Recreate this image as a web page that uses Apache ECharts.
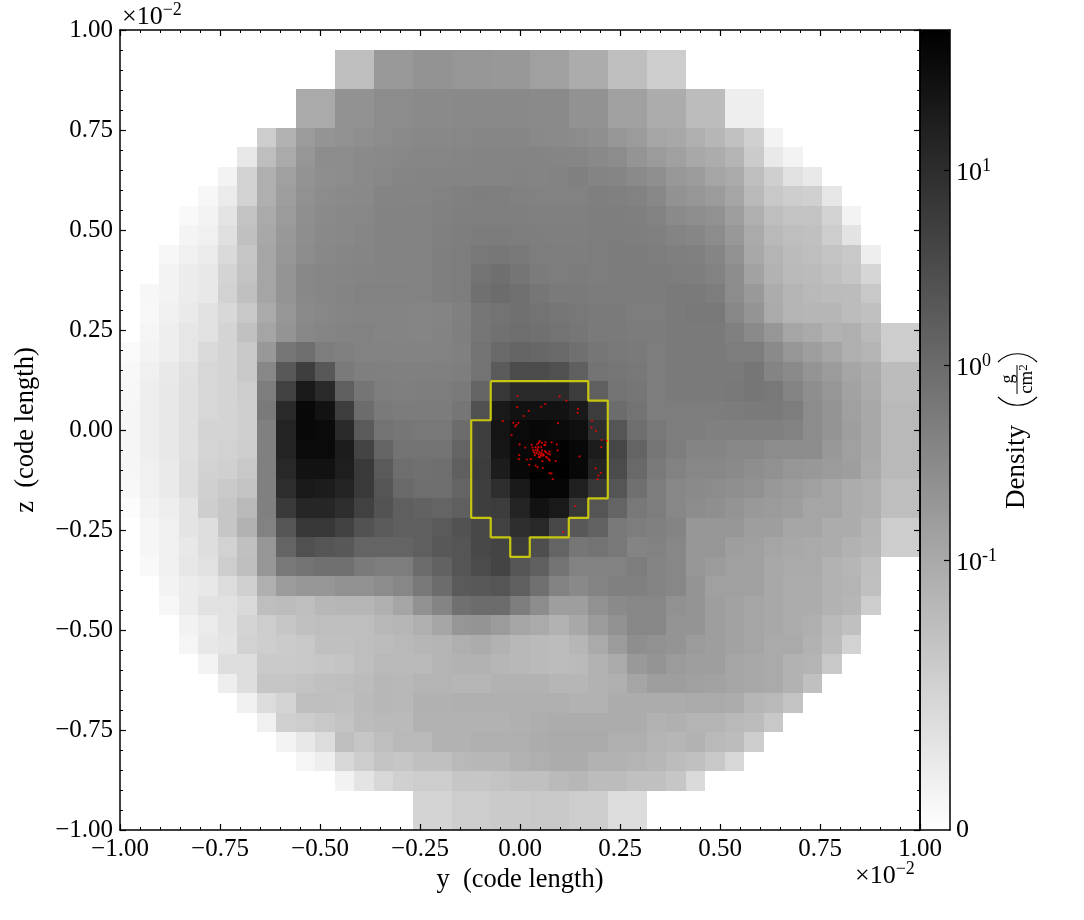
<!DOCTYPE html>
<html><head><meta charset="utf-8">
<style>html,body{margin:0;padding:0;background:#fff}#c{width:1084px;height:920px}</style>
<script src="https://cdn.jsdelivr.net/npm/echarts@6/dist/echarts.min.js"></script>
</head><body><div id="c"></div>
<script>
// Density, on the colourbar's log scale: 0 = bottom of the bar, 255 = top.
const LEVEL_BOTTOM_LOG = -2.385, LEVEL_TOP_LOG = 1.718;
const rowFirstColumn = [0,11,11,9,9,7,6,5,4,3,3,2,2,1,1,1,0,0,0,0,0,0,0,0,0,1,1,1,2,2,3,3,4,5,6,7,8,9,11,15,15];
const densityLevelRows = [
[],
[65,65,102,102,108,108,105,105,103,103,95,95,83,83,65,65,50,50],
[65,65,102,102,108,108,105,105,103,103,95,95,83,83,65,65,50,50],
[85,85,109,109,115,115,117,117,118,118,118,118,117,117,109,109,95,95,83,83,67,67,17,17],
[85,85,109,109,115,115,117,117,118,118,118,118,117,117,109,109,95,95,83,83,67,67,17,17],
[50,77,100,107,110,112,115,117,119,119,120,121,121,121,118,117,115,112,105,100,90,87,80,73,62,47,12],
[23,65,85,105,115,115,117,118,120,121,121,122,123,123,123,123,122,121,118,115,107,100,95,87,83,75,52,22,12],
[12,45,80,95,108,113,115,117,120,122,123,123,123,123,123,124,123,125,127,123,122,117,112,103,100,90,85,65,48,30,22],
[8,20,45,80,97,110,115,117,118,123,123,123,125,127,129,128,126,125,125,125,128,127,125,119,109,105,100,90,70,55,50,47,25],
[6,12,27,60,85,100,112,117,119,120,124,124,125,126,128,128,128,128,127,127,127,129,129,128,124,117,113,110,97,80,65,60,60,45,12],
[11,15,31,63,87,103,113,118,119,121,124,124,125,127,129,131,131,130,129,128,128,129,130,129,127,123,121,115,103,85,70,65,63,50,28],
[8,15,20,37,57,90,105,115,119,121,122,124,124,125,128,130,135,136,134,130,130,129,130,131,131,130,128,127,122,110,87,75,68,65,60,55,17],
[12,19,23,43,60,90,107,119,121,122,123,124,124,125,128,130,140,144,138,132,130,131,130,131,131,131,130,129,125,115,93,77,70,68,63,57,41],
[8,12,19,23,45,63,90,107,119,121,123,125,125,125,125,128,130,143,147,143,137,133,133,131,131,131,131,133,133,130,115,102,83,75,70,68,67,55],
[7,15,21,30,39,55,85,105,117,120,122,123,123,123,122,123,127,137,140,143,140,137,135,133,133,130,130,133,135,135,120,107,85,75,73,73,67,63],
[10,17,25,30,43,62,90,107,120,122,124,125,123,123,122,124,128,137,142,145,143,140,137,133,133,131,131,133,133,133,127,117,105,90,85,77,80,70,50,50],
[5,12,17,25,37,43,55,103,137,145,130,127,125,125,124,124,125,127,140,150,155,152,150,143,137,135,133,130,133,133,133,130,130,117,105,97,90,80,75,50,50],
[7,15,22,30,40,43,55,120,167,193,167,133,128,127,127,127,127,129,140,165,180,180,175,160,140,137,135,130,133,133,133,133,137,123,117,107,100,90,83,67,67],
[8,17,23,31,40,43,50,130,190,230,213,160,138,130,128,129,130,133,155,200,213,213,213,195,160,140,137,130,133,133,133,135,137,135,123,113,105,93,85,67,67],
[9,17,23,31,40,43,48,133,213,247,237,193,147,133,131,131,131,137,175,230,237,237,237,230,195,147,140,130,130,130,130,131,133,133,130,115,107,95,87,70,70],
[9,17,23,31,43,43,48,127,220,247,245,213,165,140,137,135,135,147,193,235,245,247,245,240,210,170,145,135,130,130,127,127,127,127,125,115,107,97,87,70,70],
[9,17,23,31,42,45,50,127,220,245,245,227,187,155,140,140,140,155,193,233,247,253,253,247,227,185,155,137,130,123,123,120,119,115,115,115,103,95,87,70,70],
[9,15,21,33,45,47,55,127,215,237,237,225,197,165,145,143,145,160,195,227,247,254,254,247,220,180,150,133,125,120,120,117,113,110,105,103,100,97,85,70,70],
[7,15,21,33,47,53,60,127,210,230,227,220,197,170,150,145,145,155,193,210,230,250,250,223,200,170,143,130,120,117,115,112,110,103,100,95,90,83,80,65,65],
[3,12,17,27,49,57,70,127,197,217,217,210,190,172,160,157,155,160,193,195,220,237,230,200,170,155,135,130,120,115,112,107,102,100,97,90,90,83,80,65,65],
[9,15,27,33,57,77,125,170,200,200,190,173,165,160,160,165,173,183,190,210,215,183,167,157,135,130,127,123,105,105,105,97,97,90,90,83,83,75,50,50],
[9,15,23,33,45,63,105,155,175,170,167,155,155,155,160,167,170,183,187,195,177,155,137,140,135,123,125,120,105,105,97,95,90,87,85,83,77,73,50,50],
[6,15,25,30,50,65,105,135,140,143,143,133,130,130,147,157,170,180,187,170,160,140,125,125,125,130,123,120,105,100,95,95,87,85,85,77,73,65],
[12,19,23,35,47,80,100,105,105,110,110,115,120,135,147,165,167,170,160,143,125,118,123,127,127,123,120,107,95,95,95,87,83,83,77,75,63],
[8,19,29,30,37,65,67,65,72,73,73,79,90,110,123,143,147,147,130,115,97,97,110,117,120,120,110,107,97,93,90,87,83,83,77,73,50],
[13,20,29,43,50,57,63,65,65,65,71,73,80,90,105,107,100,90,85,77,87,100,110,120,120,107,107,97,93,90,87,83,80,70,63],
[10,23,27,45,49,52,55,63,63,65,67,70,73,75,80,83,77,71,69,67,73,85,100,113,110,107,100,97,93,90,85,85,77,67,45],
[12,33,33,53,53,55,57,60,65,70,69,70,75,77,77,73,71,69,67,69,77,85,102,107,100,97,97,90,87,85,77,75,55],
[17,33,57,57,60,63,65,67,72,71,75,75,73,73,77,77,77,73,73,77,80,90,97,97,95,93,90,87,85,77,63],
[15,35,43,65,65,63,69,72,71,78,78,79,79,79,79,80,80,77,77,83,83,83,83,85,85,83,73,70,60],
[15,47,50,55,60,67,69,69,77,77,77,77,77,79,81,83,83,83,83,83,77,79,75,75,70,67,55],
[12,23,35,65,57,65,70,70,77,77,80,80,80,83,85,85,85,80,80,75,73,77,70,67,50],
[10,17,40,50,60,57,63,63,70,72,72,77,80,83,83,77,77,75,72,67,63,55,40],
[13,27,40,47,50,50,57,57,60,63,63,69,72,67,67,63,63,57,37],
[43,43,50,50,53,53,55,55,50,50,35,35],
[43,43,50,50,53,53,55,55,50,50,35,35]
];
const contourY = [-0.0732,0.1707,0.1707,0.2195,0.2195,0.1707,0.1707,0.122,0.122,0.0244,0.0244,-0.0244,-0.0244,-0.0732,-0.0732,-0.122,-0.122,-0.0732,-0.0732];
const contourZ = [0.122,0.122,0.0732,0.0732,-0.1707,-0.1707,-0.2195,-0.2195,-0.2683,-0.2683,-0.3171,-0.3171,-0.2683,-0.2683,-0.2195,-0.2195,0.0244,0.0244,0.122];
const particleY = [-.006,.099,.116,-.007,.022,.053,.063,.145,.144,.009,-.043,-.017,-.004,-.009,-.012,.095,.18,.179,.19,-.021,.204,.217,.203,-.001,.013,.149,.189,.202,.196,.194,.082,.074,.079,.057,.039,.044,.023,-.002,-.003,.017,.027,.089,.074,.056,.138,.108,.092,.079,.064,.049,.047,.055,.043,.029,.031,.039,.046,.053,.063,.061,.094,.033,.039,.044,.049,.054,.058,.047,.052,.041,.037,.056,.062,.065,.07,.074,.075,.068,.072,.065,.047,.05,.059,.055,.044,.035];
const particleZ = [.085,.084,.073,.057,.048,.058,.065,.053,.043,.035,.022,.018,.018,.013,.009,.017,.023,.006,-.002,-.013,-.025,-.027,-.043,-.036,-.044,-.066,-.096,-.107,-.114,-.123,-.123,-.108,-.109,-.095,-.089,-.093,-.087,-.063,-.073,-.074,-.073,-.078,-.076,-.078,-.19,-.255,-.036,-.031,-.031,-.028,-.032,-.032,-.036,-.037,-.044,-.043,-.043,-.043,-.037,-.038,-.051,-.051,-.05,-.053,-.056,-.058,-.061,-.061,-.063,-.058,-.063,-.065,-.053,-.056,-.059,-.054,-.061,-.069,-.073,-.067,-.068,-.068,-.063,-.051,-.048,-.056];
const colorbarTicks = [-1,0,1];
const colorbarLabels = {'-1':'{b|10}{s|-1}','0':'{b|10}{s|0}','1':'{b|10}{s|1}'};
const FONT = '"Liberation Serif"';
const N = 41, CELL = 2 / N;

const cells = [];
densityLevelRows.forEach((row, r) => row.forEach((level, i) => {
  const c = rowFirstColumn[r] + i;
  const logD = LEVEL_BOTTOM_LOG + level * (LEVEL_TOP_LOG - LEVEL_BOTTOM_LOG) / 255;
  cells.push([-1 + (c + 0.5) * CELL, 1 - (r + 0.5) * CELL, logD]);
}));

const contour = contourY.map((v, i) => [v, contourZ[i]]);
const particles = particleY.map((v, i) => [v, particleZ[i]]);

const tickFmt = v => (v < 0 ? '\u2212' : '') + Math.abs(v).toFixed(2);
const line = {show:true, onZero:false, lineStyle:{color:'#000', width:1.5}};
function mainAxis(pos, labelled, name, gap) {
  return {
    type:'value', min:-1, max:1, interval:0.25, position:pos, gridIndex:0, z:6,
    axisLine:line, splitLine:{show:false},
    axisTick:{show:true, inside:true, length:6, lineStyle:{color:'#000', width:1.2}},
    minorTick:{show:true, splitNumber:5, length:3, lineStyle:{color:'#000', width:1}},
    axisLabel:{show:labelled, color:'#000', fontFamily:FONT, fontSize:25, margin:7, formatter:tickFmt, showMinLabel:true, showMaxLabel:true, hideOverlap:false},
    name:name||'', nameLocation:'middle', nameGap:gap||0,
    nameTextStyle:{color:'#000', fontFamily:FONT, fontSize:26.5}
  };
}
function barX(pos) {
  return {type:'value', gridIndex:1, position:pos, min:0, max:1, z:6, axisLine:line, axisTick:{show:false}, axisLabel:{show:false}, splitLine:{show:false}};
}
const supRich = {b:{fontFamily:FONT,fontSize:26,color:'#000',padding:[6,0,0,0]}, s:{fontFamily:FONT,fontSize:18,color:'#000',padding:[0,0,8,0]}};
const option = {
  animation:false,
  backgroundColor:'#fff',
  grid:[
    {left:120, top:30, width:800, height:800},
    {left:920, top:30, width:30, height:800}
  ],
  xAxis:[ mainAxis('bottom', true, 'y  (code length)', 37), mainAxis('top', false), barX('bottom'), barX('top') ],
  yAxis:[
    mainAxis('left', true, 'z  (code length)', 80), mainAxis('right', false),
    {type:'value', gridIndex:1, position:'right', min:LEVEL_BOTTOM_LOG, max:LEVEL_TOP_LOG, z:6,
     axisLine:line, splitLine:{show:false},
     axisTick:{show:true, inside:true, length:6, customValues:colorbarTicks, lineStyle:{color:'#000', width:1.2}},
     axisLabel:{show:true, color:'#000', fontFamily:FONT, margin:6, showMinLabel:true, hideOverlap:false,
       customValues:[LEVEL_BOTTOM_LOG].concat(colorbarTicks),
       formatter:v => colorbarLabels[String(Math.round(v))] && Math.abs(v-Math.round(v))<1e-6 ? colorbarLabels[String(Math.round(v))] : '{z|0}',
       rich:{b:supRich.b, s:supRich.s, z:{fontFamily:FONT,fontSize:26,color:'#000'}}}},
    {type:'value', gridIndex:1, position:'left', min:LEVEL_BOTTOM_LOG, max:LEVEL_TOP_LOG, z:6, axisLine:line, axisTick:{show:false}, axisLabel:{show:false}, splitLine:{show:false}}
  ],
  visualMap:{
    type:'continuous', seriesIndex:0, dimension:2, min:LEVEL_BOTTOM_LOG, max:LEVEL_TOP_LOG,
    inRange:{color:['#ffffff','#000000']}, calculable:false, realtime:false,
    left:920, top:30, itemWidth:30, itemHeight:800, padding:0, borderWidth:0, hoverLink:false
  },
  series:[
    {type:'custom', xAxisIndex:0, yAxisIndex:0, coordinateSystem:'cartesian2d', encode:{x:0,y:1}, data:cells, z:1, silent:true,
     renderItem:(params, api) => {
       const p = api.coord([api.value(0) - CELL/2, api.value(1) + CELL/2]);
       const q = api.coord([api.value(0) + CELL/2, api.value(1) - CELL/2]);
       return {type:'rect', shape:{x:Math.round(p[0]), y:Math.round(p[1]), width:Math.round(q[0])-Math.round(p[0]), height:Math.round(q[1])-Math.round(p[1])},
               style:{fill:api.visual('color'), stroke:null}};
     }},
    {type:'line', xAxisIndex:0, yAxisIndex:0, data:contour, showSymbol:false, symbol:'none', z:3, silent:true,
     lineStyle:{color:'#c6c610', width:2.2}},
    {type:'scatter', xAxisIndex:0, yAxisIndex:0, data:particles, symbol:'circle', symbolSize:2.2, z:4, silent:true,
     itemStyle:{color:'#ff0000'}}
  ],
  graphic:[
    {type:'text', left:122, top:1, z:10, style:{rich:supRich, text:'{b|\u00d710}{s|\u22122}'}},
    {type:'text', left:855, top:860, z:10, style:{rich:supRich, text:'{b|\u00d710}{s|\u22122}'}},
    {type:'text', x:1017, y:467, rotation:Math.PI/2, z:10, style:{text:'Density', fontFamily:FONT, fontSize:27, fill:'#000', align:'center', verticalAlign:'middle'}},
    {type:'bezierCurve', z:10, shape:{x1:998, y1:397, cpx1:1009, cpy1:408, cpx2:1026, cpy2:408, x2:1037, y2:397}, style:{stroke:'#000', lineWidth:1.2, fill:null}},
    {type:'bezierCurve', z:10, shape:{x1:998, y1:362, cpx1:1009, cpy1:351, cpx2:1026, cpy2:351, x2:1037, y2:362}, style:{stroke:'#000', lineWidth:1.2, fill:null}},
    {type:'text', x:1008, y:379, rotation:Math.PI/2, z:10, style:{text:'g', fontFamily:FONT, fontSize:18, fill:'#000', align:'center', verticalAlign:'middle'}},
    {type:'line', shape:{x1:1017, y1:365, x2:1017, y2:394}, z:10, style:{stroke:'#000', lineWidth:1}},
    {type:'text', x:1027, y:379, rotation:Math.PI/2, z:10, style:{rich:{b:{fontFamily:FONT,fontSize:19,color:'#000'},s:{fontFamily:FONT,fontSize:13,color:'#000',padding:[0,0,7,0]}}, text:'{b|cm}{s|2}', align:'center', verticalAlign:'middle'}}
  ]
};
const chart = echarts.init(document.getElementById('c'), null, {renderer:'canvas'});
chart.setOption(option);
</script></body></html>
